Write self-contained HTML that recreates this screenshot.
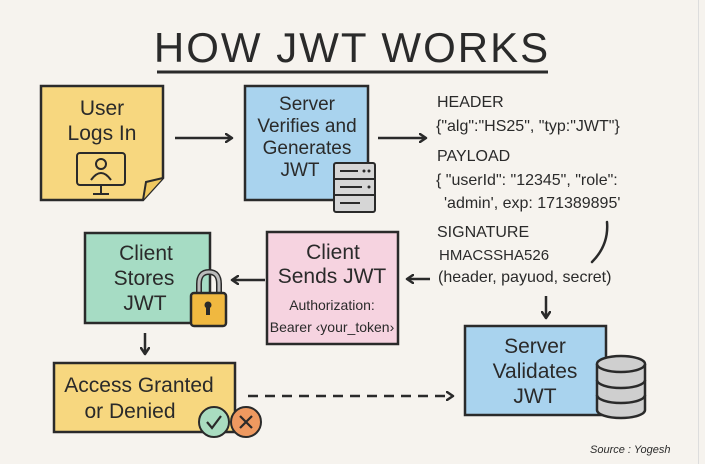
<!DOCTYPE html>
<html><head><meta charset="utf-8"><style>
html,body{margin:0;padding:0;background:#f6f3ee;}
svg{display:block}
text{font-family:"Liberation Sans",sans-serif;fill:#2a2a2a}
</style></head><body>
<svg width="705" height="464" viewBox="0 0 705 464" xmlns="http://www.w3.org/2000/svg">
<rect x="0" y="0" width="705" height="464" fill="#f6f3ee"/>
<line x1="698.5" y1="0" x2="698.5" y2="464" stroke="#ddd" stroke-width="1"/>
<defs>
<marker id="ah" markerWidth="10" markerHeight="10" refX="7" refY="5" orient="auto" markerUnits="userSpaceOnUse">
<path d="M1,1 L7,5 L1,9" fill="none" stroke="#2a2a2a" stroke-width="2.5" stroke-linecap="round" stroke-linejoin="round"/>
</marker>
</defs>
<!-- Title -->
<text x="352" y="62" text-anchor="middle" font-size="42" letter-spacing="2" style="fill:#2a2a2a">HOW JWT WORKS</text>
<line x1="157" y1="72" x2="548" y2="72" stroke="#2a2a2a" stroke-width="3"/>

<!-- User Logs In sticky -->
<path d="M41,86 H163 V178 L143,200 H41 Z" fill="#f7d77f" stroke="#2a2a2a" stroke-width="2.5"/>
<path d="M163,178 L146,182 L143,200" fill="#f0c860" stroke="#2a2a2a" stroke-width="2"/>
<text x="102" y="115" text-anchor="middle" font-size="21">User</text>
<text x="102" y="140" text-anchor="middle" font-size="21">Logs In</text>
<rect x="77" y="153" width="48" height="32" rx="3" fill="#f7d77f" stroke="#2a2a2a" stroke-width="2"/>
<circle cx="101" cy="164" r="5" fill="none" stroke="#2a2a2a" stroke-width="2"/>
<path d="M91,180 Q101,166 111,180" fill="none" stroke="#2a2a2a" stroke-width="2"/>
<line x1="101" y1="185" x2="101" y2="193" stroke="#2a2a2a" stroke-width="2"/>
<line x1="93" y1="194" x2="109" y2="194" stroke="#2a2a2a" stroke-width="2"/>

<line x1="175" y1="138" x2="232" y2="138" stroke="#2a2a2a" stroke-width="2.5" marker-end="url(#ah)"/>

<!-- Server box -->
<rect x="245" y="86" width="123" height="114" fill="#a9d3ee" stroke="#2a2a2a" stroke-width="2.5"/>
<text x="307" y="110" text-anchor="middle" font-size="19">Server</text>
<text x="307" y="132" text-anchor="middle" font-size="19">Verifies and</text>
<text x="307" y="154" text-anchor="middle" font-size="19">Generates</text>
<text x="300" y="176" text-anchor="middle" font-size="19">JWT</text>
<g stroke="#2a2a2a" stroke-width="2">
<rect x="334" y="163" width="41" height="49" rx="2" fill="#d6d6d6"/>
<line x1="334" y1="179" x2="375" y2="179"/><line x1="334" y1="195" x2="375" y2="195"/>
<line x1="340" y1="171" x2="358" y2="171"/><line x1="340" y1="187" x2="362" y2="187"/><line x1="340" y1="203" x2="360" y2="203"/>
</g>
<circle cx="364" cy="171" r="1.5" fill="#2a2a2a"/><circle cx="369" cy="171" r="1.5" fill="#2a2a2a"/><circle cx="369" cy="187" r="1.5" fill="#2a2a2a"/>

<line x1="378" y1="138" x2="426" y2="138" stroke="#2a2a2a" stroke-width="2.5" marker-end="url(#ah)"/>

<!-- JWT parts -->
<g font-size="16">
<text x="437" y="107">HEADER</text>
<text x="436" y="131">{"alg":"HS25",  "typ:"JWT"}</text>
<text x="437" y="161">PAYLOAD</text>
<text x="436" y="185">{ "userId": "12345", "role":</text>
<text x="444" y="208">'admin', exp: 171389895'</text>
<text x="437" y="237">SIGNATURE</text>
<text x="439" y="260" font-size="15">HMACSSHA526</text>
<text x="438" y="282">(header, payuod, secret)</text>
</g>
<path d="M607,222 Q609,245 592,262" fill="none" stroke="#2a2a2a" stroke-width="2.5" stroke-linecap="round"/>

<line x1="430" y1="279" x2="407" y2="279" stroke="#2a2a2a" stroke-width="2.5" marker-end="url(#ah)"/>
<line x1="546" y1="296" x2="546" y2="318" stroke="#2a2a2a" stroke-width="2.5" marker-end="url(#ah)"/>

<!-- Client Sends -->
<rect x="267" y="232" width="131" height="112" fill="#f6d3e0" stroke="#2a2a2a" stroke-width="2.5"/>
<text x="333" y="259" text-anchor="middle" font-size="21">Client</text>
<text x="332" y="283" text-anchor="middle" font-size="21">Sends JWT</text>
<text x="332" y="310" text-anchor="middle" font-size="14">Authorization:</text>
<text x="332" y="332" text-anchor="middle" font-size="14">Bearer ‹your_token›</text>

<line x1="265" y1="280" x2="232" y2="280" stroke="#2a2a2a" stroke-width="2.5" marker-end="url(#ah)"/>

<!-- Client Stores -->
<rect x="85" y="233" width="125" height="90" fill="#a6dcc4" stroke="#2a2a2a" stroke-width="2.5"/>
<text x="146" y="260" text-anchor="middle" font-size="21">Client</text>
<text x="144" y="285" text-anchor="middle" font-size="21">Stores</text>
<text x="145" y="310" text-anchor="middle" font-size="21">JWT</text>
<path d="M199,296 V284 Q199,272 209,272 Q219,272 219,284 V296" fill="none" stroke="#2a2a2a" stroke-width="6"/>
<path d="M199,296 V284 Q199,272 209,272 Q219,272 219,284 V296" fill="none" stroke="#bbb" stroke-width="3"/>
<rect x="191" y="293" width="35" height="33" rx="3" fill="#f0b840" stroke="#2a2a2a" stroke-width="2.5"/>
<circle cx="208" cy="305" r="3.5" fill="#2a2a2a"/><rect x="206" y="305" width="4" height="10" fill="#2a2a2a"/>

<line x1="145" y1="333" x2="145" y2="354" stroke="#2a2a2a" stroke-width="2.5" marker-end="url(#ah)"/>

<!-- Access -->
<rect x="54" y="363" width="181" height="69" fill="#f7d77f" stroke="#2a2a2a" stroke-width="2.5"/>
<text x="139" y="392" text-anchor="middle" font-size="21">Access Granted</text>
<text x="130" y="418" text-anchor="middle" font-size="21">or Denied</text>
<circle cx="214" cy="422" r="15" fill="#a9dcc0" stroke="#2a2a2a" stroke-width="2"/>
<path d="M207,422 L212,428 L221,416" fill="none" stroke="#2a2a2a" stroke-width="2.2"/>
<circle cx="246" cy="422" r="15" fill="#ee9960" stroke="#2a2a2a" stroke-width="2"/>
<path d="M240,416 L252,428 M252,416 L240,428" stroke="#2a2a2a" stroke-width="2.2"/>

<line x1="248" y1="396" x2="453" y2="396" stroke="#2a2a2a" stroke-width="2.5" stroke-dasharray="10,7" marker-end="url(#ah)"/>

<!-- Server Validates -->
<rect x="465" y="326" width="141" height="89" fill="#a9d3ee" stroke="#2a2a2a" stroke-width="2.5"/>
<text x="535" y="353" text-anchor="middle" font-size="21">Server</text>
<text x="535" y="378" text-anchor="middle" font-size="21">Validates</text>
<text x="535" y="403" text-anchor="middle" font-size="21">JWT</text>
<g stroke="#2a2a2a" stroke-width="2.5" fill="#cfcfcf">
<path d="M597,364 V410 A24,8 0 0 0 645,410 V364"/>
<ellipse cx="621" cy="364" rx="24" ry="8"/>
<path d="M597,380 A24,8 0 0 0 645,380" fill="none"/>
<path d="M597,395 A24,8 0 0 0 645,395" fill="none"/>
</g>

<text x="590" y="453" font-size="11" font-style="italic">Source : Yogesh</text>
</svg>
</body></html>
